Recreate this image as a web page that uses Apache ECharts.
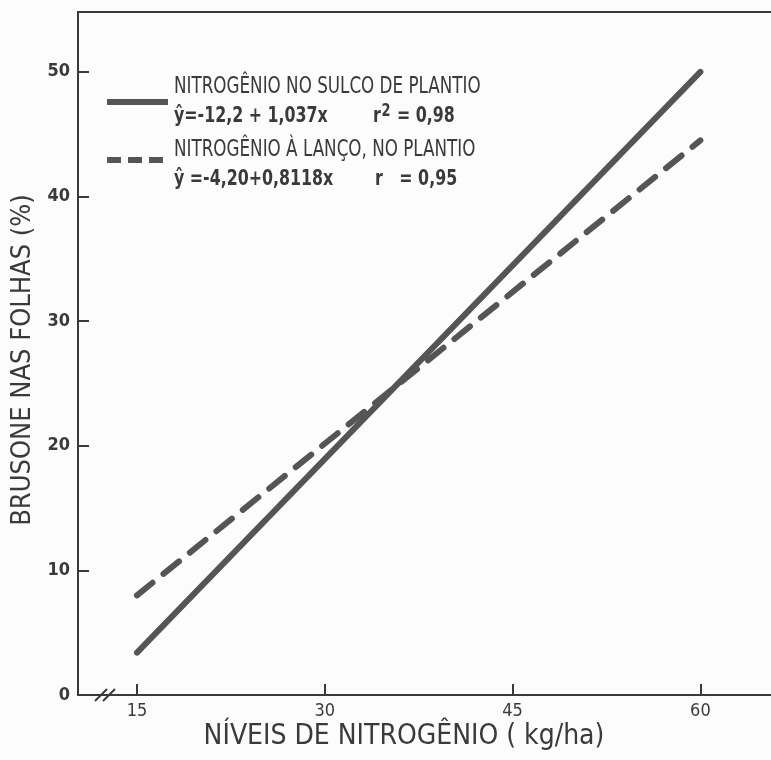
<!DOCTYPE html>
<html>
<head>
<meta charset="utf-8">
<script src="https://cdn.jsdelivr.net/npm/echarts@6/dist/echarts.min.js"></script>
<style>
  html, body { margin: 0; padding: 0; background: #fcfcfc; }
  #chart { width: 771px; height: 760px; }
</style>
</head>
<body>
<div id="chart"></div>
<script>
// Nitrogen levels (kg/ha) at the ends of each fitted line
const nitrogenLevels = [15, 60];
// Leaf blast (%) at those levels
const sulcoValues = [3.4, 50.0];   // nitrogen in the planting furrow
const lancoValues = [8.0, 44.5];   // nitrogen broadcast at planting
// Axis ticks
const xTicks = [15, 30, 45, 60];
const yTicks = [0, 10, 20, 30, 40, 50];

const FONT = '"DejaVu Sans Condensed", "DejaVu Sans", "Noto Sans", sans-serif';
const INK = '#3a3a3a';
const LINE = '#555555';
const BG = '#fcfcfc';

const chart = echarts.init(document.getElementById('chart'));

const pairs = (xs, ys) => xs.map((x, i) => [x, ys[i]]);

// narrow lettering: condensed font squeezed horizontally
const label = (x, y, text, size, squeeze, weight) => ({
  type: 'text', x: x, y: y, scaleX: squeeze, scaleY: 1,
  style: { text: text, fontFamily: FONT, fontSize: size, fontWeight: weight || 'normal', fill: INK, verticalAlign: 'middle' }
});

chart.setOption({
  backgroundColor: BG,
  animation: false,
  grid: { left: 78, top: 12, right: 0, bottom: 65, show: false, outerBoundsMode: 'none', containLabel: false },
  xAxis: [
    {
      type: 'value',
      min: 10.29,
      max: 65.64,
      axisLine: { show: true, onZero: false, lineStyle: { color: INK, width: 2 } },
      axisTick: { show: true, inside: true, length: 11, customValues: xTicks, lineStyle: { color: INK, width: 2 } },
      axisLabel: { customValues: xTicks, fontFamily: FONT, fontSize: 18, color: INK, margin: 7 },
      splitLine: { show: false }
    },
    {
      type: 'value',
      position: 'top',
      min: 10.29,
      max: 65.64,
      axisLine: { show: true, onZero: false, lineStyle: { color: INK, width: 2 } },
      axisTick: { show: false },
      axisLabel: { show: false },
      splitLine: { show: false }
    }
  ],
  yAxis: {
    type: 'value',
    min: 0,
    max: 54.8,
    axisLine: { show: true, lineStyle: { color: INK, width: 2 } },
    axisTick: { show: true, inside: true, length: 11, customValues: yTicks, lineStyle: { color: INK, width: 2 } },
    axisLabel: { customValues: yTicks, fontFamily: FONT, fontSize: 18, fontWeight: 'bold', color: INK, margin: 8 },
    splitLine: { show: false }
  },
  series: [
    {
      name: 'NITROGÊNIO NO SULCO DE PLANTIO',
      type: 'line',
      data: pairs(nitrogenLevels, sulcoValues),
      symbol: 'none',
      lineStyle: { color: LINE, width: 6, cap: 'round' }
    },
    {
      name: 'NITROGÊNIO À LANÇO, NO PLANTIO',
      type: 'line',
      data: pairs(nitrogenLevels, lancoValues),
      symbol: 'none',
      lineStyle: { color: LINE, width: 6, type: [20, 14], cap: 'round' }
    }
  ],
  graphic: [
    // axis break marks
    { type: 'rect', shape: { x: 99, y: 689, width: 10, height: 12 }, style: { fill: BG } },
    { type: 'line', shape: { x1: 95, y1: 701, x2: 107, y2: 689 }, style: { stroke: INK, lineWidth: 2 } },
    { type: 'line', shape: { x1: 103, y1: 701, x2: 115, y2: 689 }, style: { stroke: INK, lineWidth: 2 } },
    // x-axis title
    {
      type: 'text', x: 404, y: 737,
      style: { text: 'NÍVEIS DE NITROGÊNIO ( kg/ha)', fontFamily: FONT, fontSize: 28, fill: INK, align: 'center', verticalAlign: 'middle' }
    },
    // y-axis title
    {
      type: 'text', x: 23, y: 360, rotation: Math.PI / 2,
      style: { text: 'BRUSONE NAS FOLHAS (%)', fontFamily: FONT, fontSize: 27, fill: INK, align: 'center', verticalAlign: 'middle' }
    },
    // legend: solid line
    { type: 'line', shape: { x1: 107, y1: 102, x2: 168, y2: 102 }, style: { stroke: LINE, lineWidth: 6 } },
    label(174, 87, 'NITROGÊNIO NO SULCO DE PLANTIO', 23, 0.81),
    label(174, 116, 'ŷ=-12,2 + 1,037x', 22, 0.8, 'bold'),
    {
      type: 'text', x: 373, y: 116, scaleX: 0.8,
      style: {
        text: '{a|r}{s|2}{a| = 0,98}', verticalAlign: 'middle',
        rich: {
          a: { fontFamily: FONT, fontSize: 22, fontWeight: 'bold', fill: INK },
          s: { fontFamily: FONT, fontSize: 18, fontWeight: 'bold', fill: INK, verticalAlign: 'top', padding: [0, 1, 10, 1] }
        }
      }
    },
    // legend: dashed line
    { type: 'line', shape: { x1: 107, y1: 160, x2: 168, y2: 160 }, style: { stroke: LINE, lineWidth: 6, lineDash: [14, 7] } },
    label(174, 150, 'NITROGÊNIO À LANÇO, NO PLANTIO', 23, 0.81),
    label(174, 179, 'ŷ =-4,20+0,8118x', 22, 0.8, 'bold'),
    label(375, 179, 'r   = 0,95', 22, 0.8, 'bold')
  ]
});
</script>
</body>
</html>
